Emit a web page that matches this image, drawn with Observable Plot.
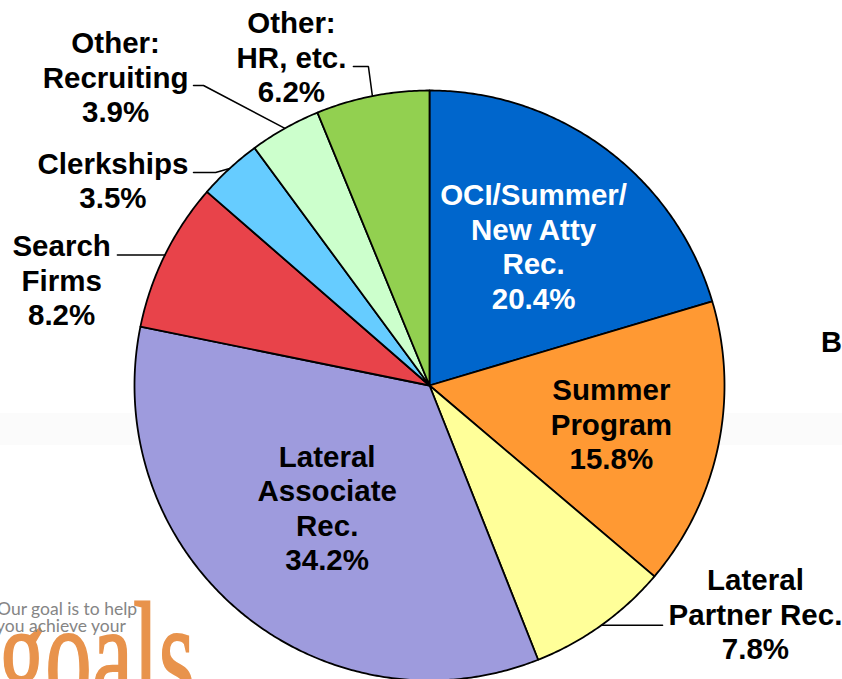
<!DOCTYPE html>
<html>
<head>
<meta charset="utf-8">
<script src="https://cdn.jsdelivr.net/npm/d3@7"></script>
<script src="https://cdn.jsdelivr.net/npm/@observablehq/plot@0.6"></script>
<style>
  html, body { margin: 0; padding: 0; background: #fff; }
  #wrap { position: relative; width: 842px; height: 679px; overflow: hidden; background: #fff; }
  #band { position: absolute; left: 0; top: 413px; width: 842px; height: 32px; background: #fbfbfb; }
  #logo { position: absolute; left: 0; top: 0; }
  #chart { position: absolute; left: 0; top: 0; }
  #chart svg { background: transparent; }
  .bchar { position: absolute; left: 821px; top: 326px; font-family: "Liberation Sans", Arial, sans-serif; font-weight: bold; font-size: 29px; color: #000; }
</style>
</head>
<body>
<div id="wrap">
  <div id="band"></div>
  <svg id="logo" width="842" height="679">
    <text transform="scale(0.62,1)" x="-2" y="706" font-family="'Liberation Serif', serif" font-size="150" fill="#E8934C" stroke="#E8934C" stroke-width="2">goals</text>
    <text x="-3" y="615" font-family="Lato, 'Open Sans', sans-serif" font-size="17.5" fill="#858585">Our goal is to help</text>
    <text x="-4" y="632" font-family="Lato, 'Open Sans', sans-serif" font-size="17.5" fill="#858585">you achieve your</text>
  </svg>
  <div class="bchar">B</div>
  <div id="chart"></div>
</div>
<script>
// ---- data ----
const categories = ["OCI/Summer/New Atty Rec.", "Summer Program", "Lateral Partner Rec.", "Lateral Associate Rec.", "Search Firms", "Clerkships", "Other: Recruiting", "Other: HR, etc."];
const values = [20.4, 15.8, 7.8, 34.2, 8.2, 3.5, 3.9, 6.2];
const labelLines = [["OCI/Summer/", "New Atty", "Rec."], ["Summer", "Program"], ["Lateral", "Partner Rec."], ["Lateral", "Associate", "Rec."], ["Search", "Firms"], ["Clerkships"], ["Other:", "Recruiting"], ["Other:", "HR, etc."]];
const colors = ["#0066CC", "#FF9933", "#FFFF99", "#9E9BDD", "#E8434A", "#66CCFF", "#CCFFCC", "#92D050"];

// ---- layout (unit-radius coordinates) ----
const insideLayout = {"OCI/Summer/New Atty Rec.": 0.59, "Summer Program": 0.63, "Lateral Associate Rec.": 0.54};
const outsideLayout = {
  "Lateral Partner Rec.": {tx: 1.105, ty: -0.773, path: [[0.79, null]]},
  "Search Firms": {tx: -1.247, ty: 0.359, path: [[-1.058, null]]},
  "Clerkships": {tx: -1.073, ty: 0.697, path: [[-0.725, 0.722], [-0.80, 0.722]]},
  "Other: Recruiting": {tx: -1.064, ty: 1.047, path: [[-0.766, 1.017], [-0.80, 1.017]]},
  "Other: HR, etc.": {tx: -0.468, ty: 1.115, path: [[-0.207, 1.081], [-0.258, 1.081]]}
};

const total = d3.sum(values);
let acc = 0;
const slices = categories.map((c, i) => {
  const a0 = acc / total * 2 * Math.PI;
  acc += values[i];
  const a1 = acc / total * 2 * Math.PI;
  return {cat: c, value: values[i], a0, a1, mid: (a0 + a1) / 2, lines: labelLines[i]};
});

// polygon points for each slice
const slicePts = [];
for (const s of slices) {
  slicePts.push({cat: s.cat, x: 0, y: 0});
  const n = Math.max(2, Math.ceil((s.a1 - s.a0) / (Math.PI / 360)));
  for (let k = 0; k <= n; k++) {
    const a = s.a0 + (s.a1 - s.a0) * k / n;
    slicePts.push({cat: s.cat, x: Math.sin(a), y: Math.cos(a)});
  }
  slicePts.push({cat: s.cat, x: 0, y: 0});
}

// labels
const labelsIn = [], labelsOut = [], leaders = [];
for (const s of slices) {
  const text = [...s.lines, s.value.toFixed(1) + "%"].join("\n");
  if (insideLayout[s.cat] != null) {
    const r = insideLayout[s.cat];
    labelsIn.push({cat: s.cat, x: r * Math.sin(s.mid), y: r * Math.cos(s.mid), text, white: s.cat === categories[0]});
  } else {
    const L = outsideLayout[s.cat];
    labelsOut.push({cat: s.cat, x: L.tx, y: L.ty, text});
    const ex = Math.sin(s.mid), ey = Math.cos(s.mid);
    leaders.push({cat: s.cat, x: ex, y: ey});
    for (const [px, py] of L.path) leaders.push({cat: s.cat, x: px, y: py == null ? ey : py});
  }
}

const R = 295, cx = 429, cy = 385, W = 842, H = 679;
const font = "'Liberation Sans', Arial, Helvetica, sans-serif";

const plot = Plot.plot({
  width: W, height: H,
  margin: 0,
  style: {background: "transparent", overflow: "visible"},
  x: {domain: [-cx / R, (W - cx) / R], axis: null},
  y: {domain: [(cy - H) / R, cy / R], axis: null},
  color: {domain: categories, range: colors},
  marks: [
    Plot.line(slicePts, {x: "x", y: "y", z: "cat", fill: "cat", stroke: "#000", strokeWidth: 1.8, strokeLinejoin: "round", curve: "linear"}),
    Plot.line(leaders, {x: "x", y: "y", z: "cat", stroke: "#000", strokeWidth: 1.5, strokeLinejoin: "miter"}),
    Plot.text(labelsIn.filter(d => d.white), {x: "x", y: "y", text: "text", fill: "#fff", fontSize: 29.5, fontWeight: "bold", fontFamily: font, lineHeight: 1.17, lineAnchor: "middle", textAnchor: "middle"}),
    Plot.text(labelsIn.filter(d => !d.white).concat(labelsOut), {x: "x", y: "y", text: "text", fill: "#000", fontSize: 29.5, fontWeight: "bold", fontFamily: font, lineHeight: 1.17, lineAnchor: "middle", textAnchor: "middle"})
  ]
});
document.getElementById("chart").appendChild(plot);
</script>
</body>
</html>
